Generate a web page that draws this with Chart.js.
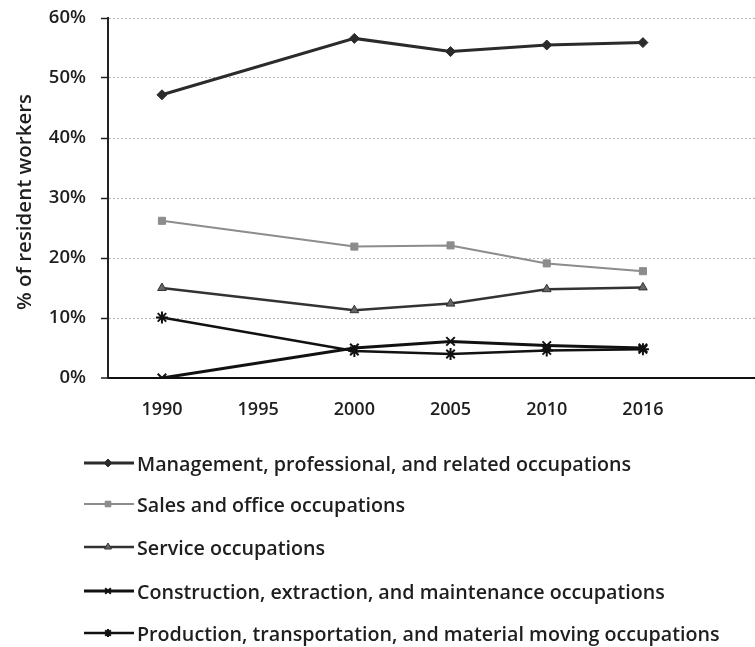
<!DOCTYPE html>
<html>
<head>
<meta charset="utf-8">
<script src="https://cdn.jsdelivr.net/npm/chart.js@4/dist/chart.umd.min.js"></script>
<style>
  html, body { margin: 0; padding: 0; background: #fff; overflow: hidden; }
  #wrap { width: 755px; height: 647px; position: relative; }
  #occChart { display: block; }
  #legend { position: absolute; left: 84px; top: 0; }
  .item {
    position: absolute;
    left: 0;
    height: 24px;
    display: flex;
    align-items: center;
    white-space: nowrap;
    font: 600 19.7px "Open Sans", Lato, sans-serif;
    color: #1e1e1e;
  }
  .item canvas { display: block; margin-right: 1px; }
</style>
</head>
<body>
<div id="wrap">
  <canvas id="occChart" width="755" height="647"></canvas>
  <div id="legend"></div>
</div>
<script>
// Tick labels on the x axis (1995 has no data)
const years = ["1990", "1995", "2000", "2005", "2010", "2016"];
const yTicks = [0, 10, 20, 30, 40, 50, 60];

// Series values (% of resident workers)
const management = [47.2, null, 56.6, 54.4, 55.5, 55.9];
const sales = [26.2, null, 21.9, 22.1, 19.1, 17.8];
const service = [15.0, null, 11.3, 12.4, 14.8, 15.1];
const construction = [0, null, 5.0, 6.1, 5.4, 5.0];
const production = [10.1, null, 4.5, 4.0, 4.6, 4.8];

const seriesNames = [
  "Management, professional, and related occupations",
  "Sales and office occupations",
  "Service occupations",
  "Construction, extraction, and maintenance occupations",
  "Production, transportation, and material moving occupations",
];
const yTitle = "% of resident workers";

const FONT = "'Open Sans', Lato, sans-serif";

// turn a value list into points on the index axis, skipping the gaps
const toPoints = (vals) =>
  vals
    .map((v, i) => (v === null ? null : { x: i, y: v }))
    .filter((p) => p !== null);

const makeSet = (label, vals, color, style, radius, width, fill) => ({
  label: label,
  data: toPoints(vals),
  borderColor: color,
  backgroundColor: fill || color,
  borderWidth: width,
  pointStyle: style,
  pointRadius: radius,
  pointBorderWidth: style === "crossRot" || style === "star" ? 2 : 1,
  pointBorderColor: color,
  pointBackgroundColor: fill || color,
  tension: 0,
});

// rotated y title, drawn on the canvas
const yTitlePlugin = {
  id: "yTitle",
  afterDraw(chart) {
    const ctx = chart.ctx;
    ctx.save();
    ctx.beginPath();
    ctx.translate(25, 202);
    ctx.rotate(-Math.PI / 2);
    ctx.fillStyle = "#1e1e1e";
    ctx.font = "600 20.5px " + FONT;
    ctx.textAlign = "center";
    ctx.textBaseline = "middle";
    ctx.fillText(yTitle, 0, 0);
    ctx.restore();
  },
};

const isZero = (c) => c.tick && c.tick.value === 0;

const ctx = document.getElementById("occChart").getContext("2d");

const chart = new Chart(ctx, {
  type: "line",
  data: {
    datasets: [
      makeSet(seriesNames[0], management, "#2b2b2b", "rectRot", 5, 3),
      makeSet(seriesNames[1], sales, "#8c8c8c", "rect", 5, 2),
      makeSet(seriesNames[2], service, "#333", "triangle", 5, 2.5, "#666"),
      makeSet(seriesNames[3], construction, "#111", "crossRot", 6, 3),
      makeSet(seriesNames[4], production, "#111", "star", 6, 2.5),
    ],
  },
  options: {
    responsive: false,
    animation: false,
    layout: { autoPadding: false, padding: { top: 18, right: 0, bottom: 0, left: 0 } },
    plugins: {
      legend: { display: false },
      tooltip: { enabled: false },
    },
    scales: {
      x: {
        type: "linear",
        min: -0.561,
        max: 6.165,
        afterBuildTicks: (scale) => {
          scale.ticks = years.map((_, i) => ({ value: i }));
        },
        afterFit: (scale) => {
          scale.height = 269;
          scale.paddingLeft = 0;
          scale.paddingRight = 0;
        },
        grid: { display: false, drawTicks: false },
        border: { display: false },
        ticks: {
          padding: 21,
          color: "#1e1e1e",
          font: { family: FONT, size: 18, weight: "600" },
          callback: (v) => years[v],
        },
      },
      y: {
        min: 0,
        max: 60,
        afterBuildTicks: (scale) => {
          scale.ticks = yTicks.map((v) => ({ value: v }));
        },
        afterFit: (scale) => {
          scale.width = 108;
          scale.paddingTop = 0;
          scale.paddingBottom = 0;
        },
        border: {
          display: true,
          color: "#222",
          width: 2,
          dash: (c) => (isZero(c) ? [] : [2, 2]),
        },
        grid: {
          color: (c) => (isZero(c) ? "#111" : "#b5b5b5"),
          lineWidth: (c) => (isZero(c) ? 2 : 1),
          tickLength: 7,
          tickColor: "#222",
          tickWidth: 1.5,
          drawTicks: true,
          tickBorderDash: [],
        },
        ticks: {
          padding: 15,
          color: "#1e1e1e",
          font: { family: FONT, size: 18.5, weight: "600" },
          callback: (v) => v + "%",
        },
      },
    },
  },
  plugins: [yTitlePlugin],
});

// HTML legend: one row per dataset, marker drawn with the library helper
const legendRows = [463, 504, 547, 591, 633];
const legendBox = document.getElementById("legend");
chart.data.datasets.forEach((ds, i) => {
  const row = document.createElement("div");
  row.className = "item";
  row.style.top = legendRows[i] - 12 + "px";

  const swatch = document.createElement("canvas");
  swatch.width = 52;
  swatch.height = 24;
  const sctx = swatch.getContext("2d");
  sctx.strokeStyle = ds.borderColor;
  sctx.lineWidth = ds.borderWidth;
  sctx.beginPath();
  sctx.moveTo(0, 12);
  sctx.lineTo(50, 12);
  sctx.stroke();
  sctx.fillStyle = ds.pointBackgroundColor;
  sctx.strokeStyle = ds.pointBorderColor;
  sctx.lineWidth = ds.pointBorderWidth;
  Chart.helpers.drawPoint(
    sctx,
    { pointStyle: ds.pointStyle, radius: 4, rotation: 0, borderWidth: ds.pointBorderWidth },
    24,
    12
  );

  const label = document.createElement("span");
  label.textContent = ds.label;

  row.appendChild(swatch);
  row.appendChild(label);
  legendBox.appendChild(row);
});
</script>
</body>
</html>
